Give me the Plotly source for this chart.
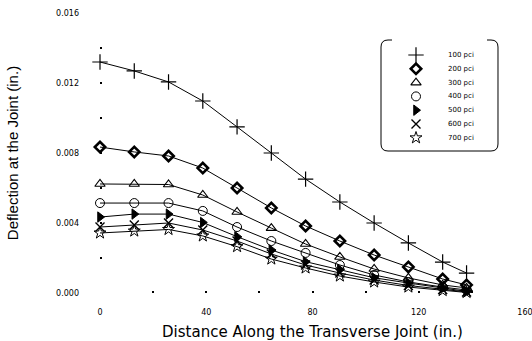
import plotly.graph_objects as go

# ---- data ----
distance = [0, 12.9, 25.8, 38.7, 51.6, 64.5, 77.4, 90.3, 103.2, 116.1, 129.0, 138.0]

series_names = ["100 pci", "200 pci", "300 pci", "400 pci", "500 pci", "600 pci", "700 pci"]

d100 = [0.01320, 0.01269, 0.01206, 0.01097, 0.00949, 0.00800, 0.00651, 0.00520, 0.00400, 0.00286, 0.00177, 0.00114]
d200 = [0.00834, 0.00806, 0.00783, 0.00714, 0.00600, 0.00486, 0.00383, 0.00297, 0.00217, 0.00149, 0.00080, 0.00046]
d300 = [0.00623, 0.00623, 0.00620, 0.00560, 0.00463, 0.00371, 0.00280, 0.00206, 0.00137, 0.00086, 0.00046, 0.00029]
d400 = [0.00514, 0.00514, 0.00514, 0.00469, 0.00377, 0.00297, 0.00229, 0.00160, 0.00103, 0.00063, 0.00034, 0.00017]
d500 = [0.00434, 0.00451, 0.00451, 0.00403, 0.00322, 0.00246, 0.00179, 0.00134, 0.00087, 0.00057, 0.00029, 0.00009]
d600 = [0.00377, 0.00389, 0.00400, 0.00360, 0.00297, 0.00223, 0.00160, 0.00114, 0.00074, 0.00043, 0.00020, 0.00006]
d700 = [0.00343, 0.00354, 0.00363, 0.00326, 0.00265, 0.00194, 0.00143, 0.00097, 0.00063, 0.00034, 0.00014, 0.00003]

all_series = [d100, d200, d300, d400, d500, d600, d700]

x_tickvals = [0, 20, 40, 60, 80, 100, 120, 140, 160]
x_ticktext = ["0", "", "40", "", "80", "", "120", "", "160"]
y_tickvals = [0, 0.002, 0.004, 0.006, 0.008, 0.010, 0.012, 0.014, 0.016]
y_ticktext = ["0.000", "", "0.004", "", "0.008", "", "0.012", "", "0.016"]

# ---- styles ----
symbols = ["cross-thin", "diamond-open", "triangle-up-open", "circle-open",
           "triangle-right", "x-thin", "star-open"]
sizes = [11, 8, 9, 9, 9, 9, 9]
mline = [1.2, 2.6, 1.1, 1.0, 1.0, 1.4, 1.0]

W, H = 532, 341
ML, MR, MT, MB = 100, 7, 13, 48
PW, PH = W - ML - MR, H - MT - MB


def px_x(p):
    return (p - ML) / PW


def px_y(p):
    return (MT + PH - p) / PH


fig = go.Figure()

for name, vals, sym, sz, lw in zip(series_names, all_series, symbols, sizes, mline):
    fig.add_trace(go.Scatter(
        x=distance, y=vals, name=name, mode="lines+markers",
        line=dict(color="black", width=1),
        marker=dict(symbol=sym, size=sz, color="black",
                    line=dict(color="black", width=lw)),
        cliponaxis=False, showlegend=False,
    ))

# custom legend drawn on an overlay axis (0..1 plot-area fractions)
leg_x = px_x(416)
leg_y0 = px_y(55)
leg_step = 13.8 / PH
leg_keys_y = [leg_y0 - i * leg_step for i in range(len(series_names))]
for i, (name, sym, sz, lw) in enumerate(zip(series_names, symbols, sizes, mline)):
    fig.add_trace(go.Scatter(
        x=[leg_x], y=[leg_keys_y[i]], mode="markers", xaxis="x2", yaxis="y2",
        marker=dict(symbol=sym, size=sz, color="black",
                    line=dict(color="black", width=lw)),
        showlegend=False, hoverinfo="skip", cliponaxis=False,
    ))
    fig.add_annotation(
        x=px_x(446), y=leg_keys_y[i], xref="paper", yref="paper",
        text=name, showarrow=False, xanchor="left", yanchor="middle",
        font=dict(family="DejaVu Sans", size=7, color="black"),
    )

# legend frame (rounded, top edge only partially drawn)
L, R, T, B, r = 381, 498, 40, 151, 7
pts = [
    ("M", (392, T)), ("L", (L + r, T)), ("Q", (L, T), (L, T + r)),
    ("L", (L, B - r)), ("Q", (L, B), (L + r, B)), ("L", (R - r, B)),
    ("Q", (R, B), (R, B - r)), ("L", (R, T + r)), ("Q", (R, T), (R - r, T)),
    ("L", (487, T)),
]
path = ""
for cmd, *ps in pts:
    path += cmd + " " + " ".join(f"{px_x(a):.5f},{px_y(b):.5f}" for a, b in ps) + " "
fig.add_shape(type="path", path=path.strip(), xref="paper", yref="paper",
              line=dict(color="black", width=1))

tick_font = dict(family="DejaVu Sans", size=8, color="black")

fig.update_layout(
    width=W, height=H,
    margin=dict(l=ML, r=MR, t=MT, b=MB),
    paper_bgcolor="white", plot_bgcolor="white",
    showlegend=False,
    xaxis=dict(
        range=[0, 160], tickvals=x_tickvals, ticktext=x_ticktext,
        showgrid=False, zeroline=False, showline=False,
        ticks="inside", ticklen=2, tickwidth=1.5, tickcolor="black",
        tickfont=tick_font, ticklabelstandoff=13, ticklabeloverflow="allow",
        title=dict(text="Distance Along the Transverse Joint (in.)",
                   font=dict(family="DejaVu Sans", size=15, color="black"),
                   standoff=11),
        automargin=False,
    ),
    yaxis=dict(
        range=[0, 0.016], tickvals=y_tickvals, ticktext=y_ticktext,
        showgrid=False, zeroline=False, showline=False,
        ticks="inside", ticklen=2, tickwidth=1.5, tickcolor="black",
        tickfont=tick_font, ticklabelstandoff=20,
        title=dict(text="Deflection at the Joint (in.)",
                   font=dict(family="Liberation Sans", size=15, color="black"),
                   standoff=33),
        automargin=False,
    ),
    xaxis2=dict(overlaying="x", range=[0, 1], visible=False),
    yaxis2=dict(overlaying="y", range=[0, 1], visible=False),
)

fig.write_html("out.html")
